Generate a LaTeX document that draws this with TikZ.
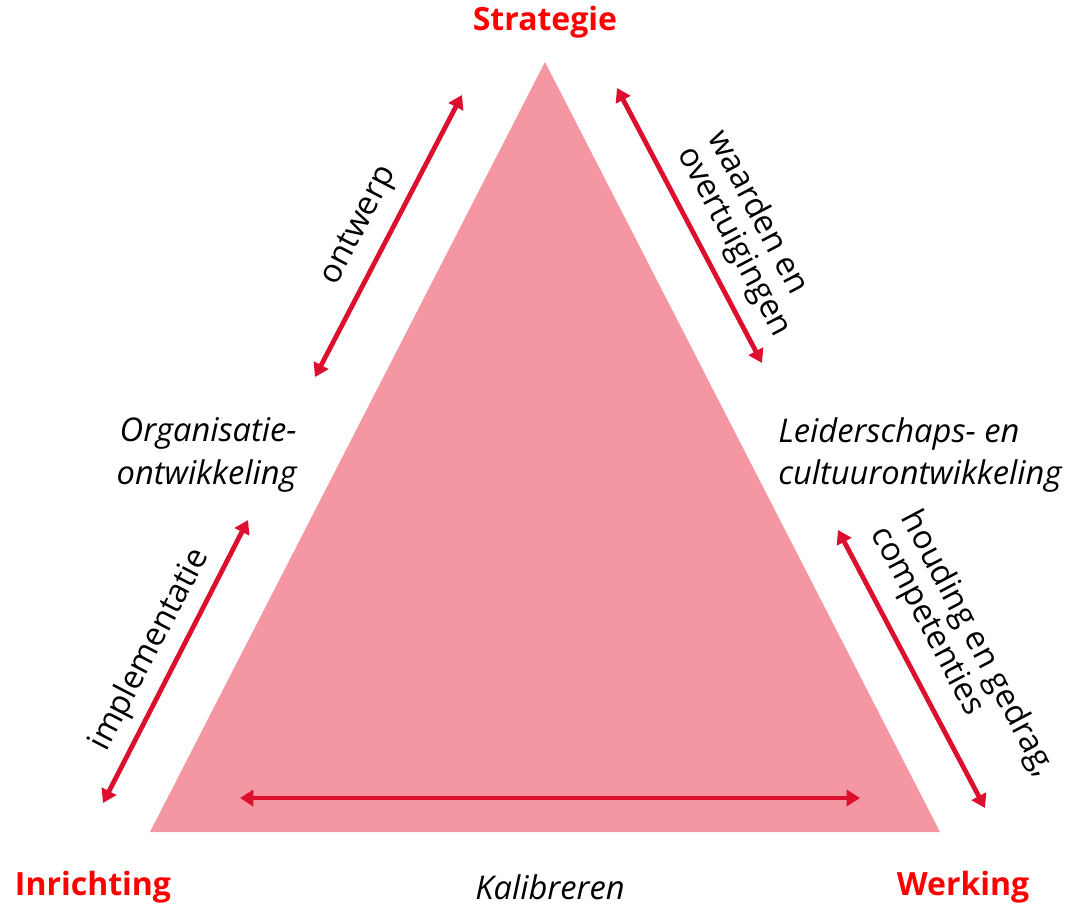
\documentclass[tikz,border=0pt]{standalone}
\usepackage{fontspec}
\setmainfont{Open Sans}
\usetikzlibrary{arrows.meta}
\definecolor{tri}{HTML}{F596A3}
\definecolor{arr}{HTML}{DC0F2F}
\definecolor{ttl}{HTML}{FF0000}
\tikzset{
  dbl/.style={arr, line width=3.6pt, {Triangle[length=10pt,width=12pt]}-{Triangle[length=10pt,width=12pt]}},
  lbl/.style={font=\fontsize{24.5}{25.5}\selectfont, align=left, inner sep=0pt},
  ital/.style={font=\fontsize{24.5}{32}\selectfont\itshape, inner sep=0pt},
  title/.style={font=\fontsize{24}{26}\selectfont\bfseries, text=ttl, inner sep=0pt}
}
\begin{document}
\begin{tikzpicture}[x=0.75pt,y=-0.75pt]
\useasboundingbox (0,0) rectangle (1078,910);
\fill[tri] (545,62) -- (940,832) -- (150,832) -- cycle;
\coordinate (o1) at (315,377); \coordinate (o2) at (462,95);
\coordinate (w1) at (617,88); \coordinate (w2) at (762,363);
\coordinate (i1) at (103,803); \coordinate (i2) at (248,520);
\coordinate (h1) at (838,530); \coordinate (h2) at (985,808);
\coordinate (k1) at (240,798); \coordinate (k2) at (860,798);
\draw[dbl] (o1) -- (o2);
\draw[dbl] (w1) -- (w2);
\draw[dbl] (i1) -- (i2);
\draw[dbl] (h1) -- (h2);
\draw[dbl] (k1) -- (k2);
\node[lbl, rotate=62.5] (lo) at (360,226) {ontwerp};
\node[lbl, rotate=-62.2] (lw) at (749,234) {waarden en\\overtuigingen};
\node[lbl, rotate=62.5] (li) at (150,650) {implementatie};
\node[lbl, rotate=-62.2] (lh) at (962,652) {houding en gedrag,\\competenties};
\node[ital, align=right, anchor=east] (org) at (297,455) {Organisatie-\\ontwikkeling};
\node[ital, align=left, anchor=west] (lei) at (778,455) {Leiderschaps- en\\cultuurontwikkeling};
\node[ital] (kal) at (550,887) {Kalibreren};
\node[title] (str) at (545,22) {Strategie};
\node[title] (inr) at (93,887) {Inrichting};
\node[title] (wer) at (963,887) {Werking};
\end{tikzpicture}
\end{document}
